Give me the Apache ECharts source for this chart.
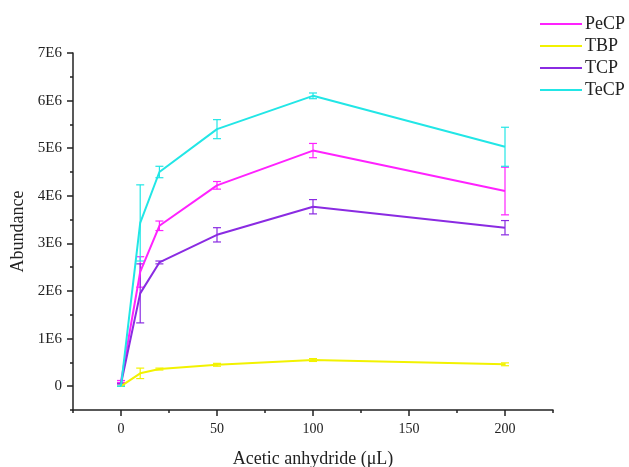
<!DOCTYPE html>
<html>
<head>
<meta charset="utf-8">
<script src="https://cdn.jsdelivr.net/npm/echarts@6/dist/echarts.min.js"></script>
<style>
  html, body { margin: 0; padding: 0; background: #fff; }
  #main { width: 629px; height: 467px; }
</style>
</head>
<body>
<div id="main"></div>
<script>
// volumes of acetic anhydride (uL)
const volumes = [0, 10, 20, 50, 100, 200];
const seriesNames = ['PeCP', 'TBP', 'TCP', 'TeCP'];
const colors = ['#ff22ff', '#f2f200', '#8a2be2', '#22e6e6'];

// abundance means
const pecp = [0.10e6, 2.40e6, 3.37e6, 4.22e6, 4.95e6, 4.10e6];
const tbp  = [0.00e6, 0.27e6, 0.36e6, 0.45e6, 0.55e6, 0.46e6];
const tcp  = [0.05e6, 1.95e6, 2.60e6, 3.18e6, 3.77e6, 3.33e6];
const tecp = [0.00e6, 3.43e6, 4.50e6, 5.40e6, 6.10e6, 5.03e6];

// error (+/-)
const pecpErr = [0.02e6, 0.32e6, 0.10e6, 0.08e6, 0.15e6, 0.50e6];
const tbpErr  = [0.00e6, 0.11e6, 0.02e6, 0.03e6, 0.03e6, 0.03e6];
const tcpErr  = [0.00e6, 0.62e6, 0.03e6, 0.15e6, 0.15e6, 0.15e6];
const tecpErr = [0.00e6, 0.80e6, 0.12e6, 0.20e6, 0.06e6, 0.41e6];

const yMajor = [0, 1e6, 2e6, 3e6, 4e6, 5e6, 6e6, 7e6];
const yMinor = [-0.5e6, 0.5e6, 1.5e6, 2.5e6, 3.5e6, 4.5e6, 5.5e6, 6.5e6];
const xMajor = [0, 50, 100, 150, 200];
const xMinor = [-25, 25, 75, 125, 175, 225];

const means = [pecp, tbp, tcp, tecp];
const errs = [pecpErr, tbpErr, tcpErr, tecpErr];

const font = 'Liberation Serif';
const axisColor = '#222';

let myChart = echarts.init(document.getElementById('main'));

let series = [];
seriesNames.forEach(function (name, i) {
    series.push({
        name: name,
        type: 'line',
        xAxisIndex: 0,
        yAxisIndex: 0,
        symbol: 'none',
        lineStyle: { width: 2, color: colors[i] },
        itemStyle: { color: colors[i] },
        data: volumes.map(function (x, j) { return [x, means[i][j]]; }),
        z: 3
    });
    series.push({
        name: name + '_err',
        type: 'custom',
        xAxisIndex: 0,
        yAxisIndex: 0,
        data: volumes.map(function (x, j) {
            return [x, means[i][j] - errs[i][j], means[i][j] + errs[i][j]];
        }),
        renderItem: function (params, api) {
            let lo = api.coord([api.value(0), api.value(1)]);
            let hi = api.coord([api.value(0), api.value(2)]);
            let w = 4;
            let style = { stroke: colors[i], lineWidth: 1.2 };
            return {
                type: 'group',
                children: [
                    { type: 'line', shape: { x1: hi[0], y1: hi[1], x2: lo[0], y2: lo[1] }, style: style },
                    { type: 'line', shape: { x1: hi[0] - w, y1: hi[1], x2: hi[0] + w, y2: hi[1] }, style: style },
                    { type: 'line', shape: { x1: lo[0] - w, y1: lo[1], x2: lo[0] + w, y2: lo[1] }, style: style }
                ]
            };
        },
        z: 2
    });
});

let option = {
    animation: false,
    backgroundColor: '#fff',
    textStyle: { fontFamily: font },
    legend: {
        data: seriesNames,
        orient: 'vertical',
        left: 535,
        top: 10,
        icon: 'rect',
        itemWidth: 42,
        itemHeight: 2,
        itemGap: 4,
        textStyle: { fontFamily: font, fontSize: 18, color: '#222', padding: [0, 0, 0, -2] }
    },
    grid: { left: 73, right: 76, top: 53, bottom: 57, outerBoundsMode: 'none', containLabel: false },
    xAxis: [{
        type: 'value',
        min: -25,
        max: 225,
        name: 'Acetic anhydride (μL)',
        nameLocation: 'middle',
        nameGap: 40,
        nameTextStyle: { fontFamily: font, fontSize: 18, color: '#222' },
        splitLine: { show: false },
        axisLine: { onZero: false, lineStyle: { color: axisColor, width: 1.5 } },
        axisTick: { customValues: xMajor, length: 6, lineStyle: { color: axisColor, width: 1.5 } },
        axisLabel: { customValues: xMajor, fontFamily: font, fontSize: 14, color: '#222', margin: 12 }
    }, {
        type: 'value',
        min: -25,
        max: 225,
        position: 'bottom',
        splitLine: { show: false },
        axisLine: { show: false, onZero: false },
        axisTick: { customValues: xMinor, length: 3, lineStyle: { color: axisColor, width: 1.5 } },
        axisLabel: { show: false }
    }],
    yAxis: [{
        type: 'value',
        min: -0.5e6,
        max: 7e6,
        name: 'Abundance',
        nameLocation: 'middle',
        nameGap: 45,
        nameRotate: 90,
        nameTextStyle: { fontFamily: font, fontSize: 18, color: '#222' },
        splitLine: { show: false },
        axisLine: { onZero: false, lineStyle: { color: axisColor, width: 1.5 } },
        axisTick: { customValues: yMajor, length: 6, lineStyle: { color: axisColor, width: 1.5 } },
        axisLabel: {
            customValues: yMajor,
            fontFamily: font,
            fontSize: 15,
            color: '#222',
            margin: 11,
            formatter: function (v) { return v === 0 ? '0' : Math.round(v / 1e6) + 'E6'; }
        }
    }, {
        type: 'value',
        min: -0.5e6,
        max: 7e6,
        position: 'left',
        offset: 0,
        splitLine: { show: false },
        axisLine: { show: false, onZero: false },
        axisTick: { customValues: yMinor, length: 3, lineStyle: { color: axisColor, width: 1.5 } },
        axisLabel: { show: false }
    }],
    series: series
};
myChart.setOption(option);
window.onresize = myChart.resize;
</script>
</body>
</html>
